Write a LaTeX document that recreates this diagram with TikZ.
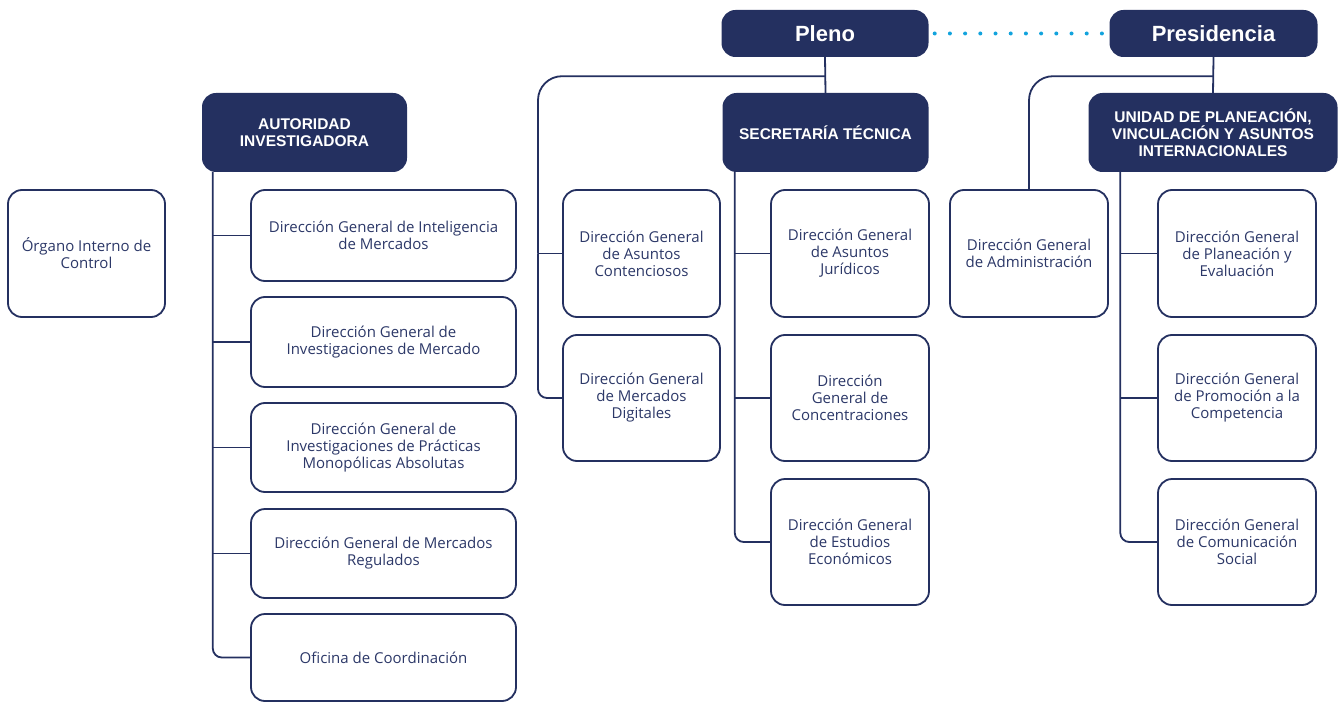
\documentclass[tikz,border=0pt]{standalone}
\usepackage{fontspec}
\setmainfont{Open Sans}
\newfontfamily\headfont{Liberation Sans}
\usetikzlibrary{calc}
\definecolor{navy}{HTML}{243060}
\definecolor{txtnavy}{HTML}{2C3868}
\definecolor{dotcyan}{HTML}{12A3DD}
\tikzset{
  box/.style={draw=navy, line width=1.8pt, rounded corners=14pt, fill=white, align=center,
    text=txtnavy, font=\fontsize{15}{17}\selectfont, inner sep=2pt},
  head/.style={fill=navy, rounded corners=14pt, align=center, text=white,
    font=\headfont\bfseries\fontsize{15.5}{17}\selectfont, inner sep=2pt},
  top/.style={head, font=\headfont\bfseries\fontsize{22}{24}\selectfont},
  conn/.style={draw=navy, line width=1.8pt},
}
\begin{document}
\begin{tikzpicture}[x=1pt, y=-1pt]
\useasboundingbox (0,0) rectangle (1340,703);
% top level
\node[top, minimum width=207pt, minimum height=47pt] (pleno) at (825,33.5) {Pleno};
\node[top, minimum width=208pt, minimum height=47pt] (pres) at (1213.5,33.5) {Presidencia};
% second level
\node[head, minimum width=205pt, minimum height=79pt] (ai) at (304.5,132.5) {AUTORIDAD\\INVESTIGADORA};
\node[head, minimum width=206pt, minimum height=79pt] (sec) at (825.5,132.5) {SECRETARÍA TÉCNICA};
\node[head, minimum width=249pt, minimum height=79pt] (uni) at (1213,132.5) {UNIDAD DE PLANEACIÓN,\\VINCULACIÓN Y ASUNTOS\\INTERNACIONALES};
% standalone
\node[box, minimum width=157pt, minimum height=127pt] (org) at (86.5,253.5) {Órgano Interno de\\Control};
% AI children
\node[box, minimum width=265pt, minimum height=91pt] (dg1) at (383.5,235.5) {Dirección General de Inteligencia\\de Mercados};
\node[box, minimum width=265pt, minimum height=90pt] (dg2) at (383.5,342) {Dirección General de\\Investigaciones de Mercado};
\node[box, minimum width=265pt, minimum height=89pt] (dg3) at (383.5,447.5) {Dirección General de\\Investigaciones de Prácticas\\Monopólicas Absolutas};
\node[box, minimum width=265pt, minimum height=89pt] (dg4) at (383.5,553.5) {Dirección General de Mercados\\Regulados};
\node[box, minimum width=265pt, minimum height=87pt] (ofi) at (383.5,657.5) {Oficina de Coordinación};
% Pleno children
\node[box, minimum width=157pt, minimum height=127pt] (cont) at (641.5,253.5) {Dirección General\\de Asuntos\\Contenciosos};
\node[box, minimum width=157pt, minimum height=126pt] (digi) at (641.5,398) {Dirección General\\de Mercados\\Digitales};
% Secretaria children
\node[box, minimum width=158pt, minimum height=127pt] (jur) at (850,253.5) {Dirección General\\de Asuntos\\Jurídicos};
\node[box, minimum width=158pt, minimum height=126pt] (conc) at (850,398) {Dirección\\General de\\Concentraciones};
\node[box, minimum width=158pt, minimum height=126pt] (est) at (850,542) {Dirección General\\de Estudios\\Económicos};
% Presidencia children
\node[box, minimum width=158pt, minimum height=127pt] (adm) at (1029,253.5) {Dirección General\\de Administración};
\node[box, minimum width=158pt, minimum height=127pt] (plan) at (1237,253.5) {Dirección General\\de Planeación y\\Evaluación};
\node[box, minimum width=158pt, minimum height=126pt] (prom) at (1237,398) {Dirección General\\de Promoción a la\\Competencia};
\node[box, minimum width=158pt, minimum height=126pt] (com) at (1237,542) {Dirección General\\de Comunicación\\Social};

% dotted link
\draw[dotcyan, line width=4pt, line cap=round, dash pattern=on 0pt off 15.2pt, dash phase=-6pt] (pleno.east) -- (pres.west);

% Pleno connectors
\coordinate (plj) at ($(pleno.south)+(0,19)$);
\coordinate (plx) at (538,0);
\draw[conn] (pleno.south) -- (sec.north);
\draw[conn, rounded corners=24pt] (plj) -| (plx |- cont.west);
\draw[conn, rounded corners=9pt] (plx |- cont.west) |- (digi.west);
\draw[conn] (plx |- cont.west) -- (cont.west);

% Presidencia connectors
\coordinate (prj) at ($(pres.south)+(0,19)$);
\draw[conn] (pres.south) -- (uni.north);
\draw[conn, rounded corners=24pt] (prj) -| (adm.north);

% AI column
\coordinate (aix) at ($(ai.south west)+(11,0)$);
\draw[conn, rounded corners=9pt] (aix) |- (ofi.west);
\foreach \n in {dg1,dg2,dg3,dg4} \draw[conn] (aix |- \n.west) -- (\n.west);

% Secretaria column
\coordinate (sx) at ($(sec.south west)+(12.5,0)$);
\draw[conn, rounded corners=9pt] (sx) |- (est.west);
\foreach \n in {jur,conc} \draw[conn] (sx |- \n.west) -- (\n.west);

% Unidad column
\coordinate (ux) at ($(uni.south west)+(32,0)$);
\draw[conn, rounded corners=9pt] (ux) |- (com.west);
\foreach \n in {plan,prom} \draw[conn] (ux |- \n.west) -- (\n.west);
\end{tikzpicture}
\end{document}
